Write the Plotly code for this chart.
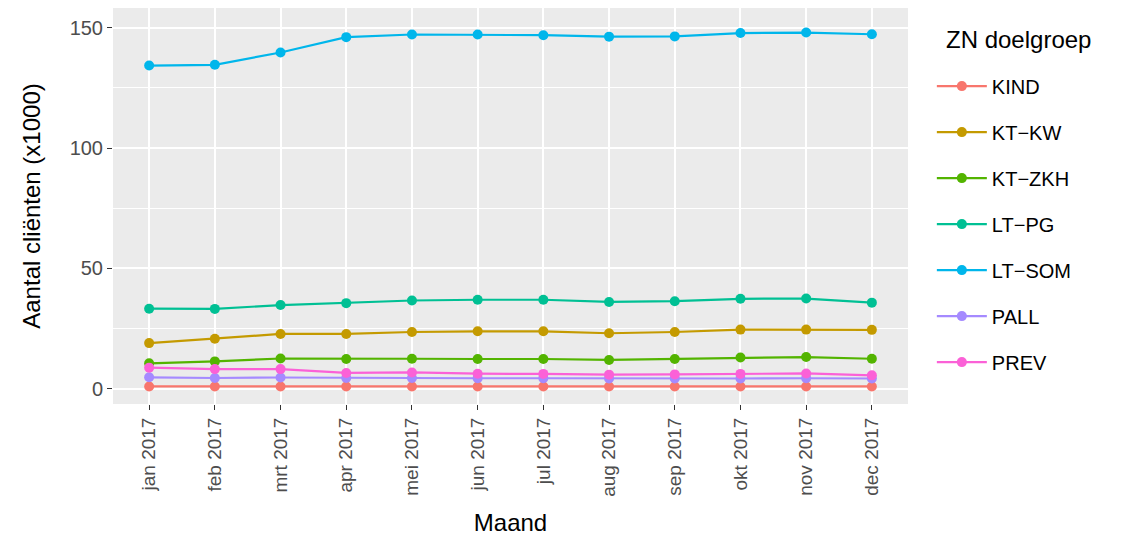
import plotly.graph_objects as go

maanden = ["jan 2017", "feb 2017", "mrt 2017", "apr 2017", "mei 2017", "jun 2017",
           "jul 2017", "aug 2017", "sep 2017", "okt 2017", "nov 2017", "dec 2017"]

kind = [1.0, 1.0, 1.0, 1.0, 1.0, 1.0, 1.0, 1.0, 1.0, 1.0, 1.0, 1.0]
kt_kw = [19.0, 20.8, 22.8, 22.8, 23.6, 23.9, 23.9, 23.1, 23.6, 24.6, 24.6, 24.5]
kt_zkh = [10.6, 11.4, 12.6, 12.4, 12.5, 12.4, 12.4, 12.0, 12.4, 13.0, 13.2, 12.5]
lt_pg = [33.3, 33.2, 34.8, 35.6, 36.7, 37.0, 37.0, 36.1, 36.4, 37.4, 37.5, 35.8]
lt_som = [134.3, 134.6, 139.7, 146.1, 147.2, 147.2, 146.9, 146.3, 146.4, 147.8, 148.0, 147.3]
pall = [4.8, 4.5, 4.7, 4.5, 4.5, 4.4, 4.4, 4.3, 4.3, 4.3, 4.4, 4.3]
prev = [8.8, 8.2, 8.2, 6.6, 6.8, 6.3, 6.2, 5.9, 6.0, 6.2, 6.4, 5.6]

series = [("KIND", kind, "#F8766D"), ("KT\u2212KW", kt_kw, "#C49A00"),
          ("KT\u2212ZKH", kt_zkh, "#53B400"), ("LT\u2212PG", lt_pg, "#00C094"),
          ("LT\u2212SOM", lt_som, "#00B6EB"), ("PALL", pall, "#A58AFF"),
          ("PREV", prev, "#FB61D7")]

fig = go.Figure()
for name, vals, col in series:
    fig.add_trace(go.Scatter(x=maanden, y=vals, name=name, legendgroup=name,
                             mode="lines+markers",
                             line=dict(color=col, width=2.2), marker=dict(color=col, size=10)))

fig.add_annotation(text="ZN doelgroep", xref="paper", yref="paper", x=1.045, y=0.92,
                   xanchor="left", yanchor="middle", showarrow=False, font=dict(size=24))

fig.update_layout(
    width=1124, height=548,
    margin=dict(l=105, r=224, t=0, b=152, autoexpand=False),
    paper_bgcolor="white", plot_bgcolor="#EBEBEB",
    font=dict(family="Liberation Sans, Arial", size=20, color="black"),
    legend=dict(x=1.03, y=0.852, yanchor="top", font=dict(size=20), tracegroupgap=17,
                itemwidth=50, bgcolor="rgba(0,0,0,0)"),
)
fig.update_xaxes(title=dict(text="Maand", font=dict(size=24), standoff=18), tickangle=-90,
                 gridcolor="white", gridwidth=2, ticks="outside", ticklen=5,
                 tickcolor="#333", tickfont=dict(size=19, color="#4D4D4D"),
                 range=[-0.55, 11.55])
fig.update_yaxes(title=dict(text="Aantal cliënten (x1000)", font=dict(size=24), standoff=22),
                 range=[-6.3, 158.2], tickvals=[0, 50, 100, 150], gridcolor="white",
                 gridwidth=2, ticks="outside", ticklen=5, tickcolor="#333",
                 tickfont=dict(size=20, color="#4D4D4D"), zeroline=False,
                 minor=dict(tickvals=[25, 75, 125], gridcolor="white", gridwidth=1))

fig.write_html("out.html")
